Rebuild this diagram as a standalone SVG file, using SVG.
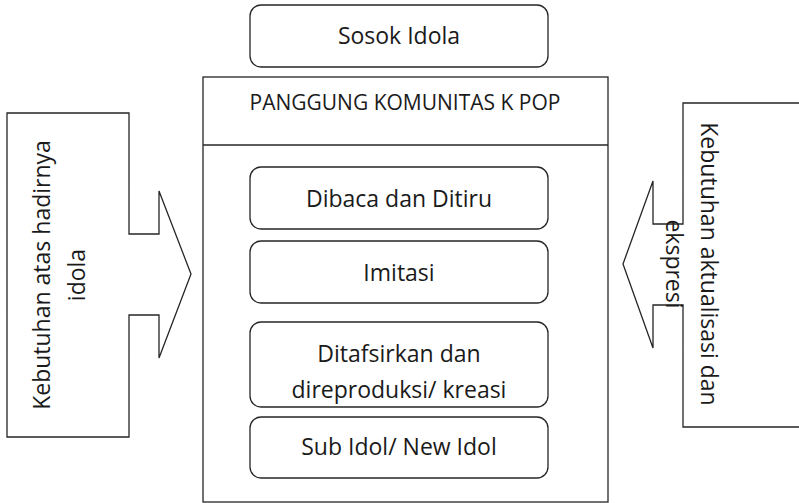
<svg xmlns="http://www.w3.org/2000/svg" width="799" height="503" viewBox="0 0 799 503">
  <style>
    .shape { fill: #ffffff; stroke: #262626; stroke-width: 1.3; }
    .lbl { font-family: "Open Sans", "Noto Sans", "Liberation Sans", sans-serif; font-size: 23px; fill: #1a1a1a; text-anchor: middle; }
    .hdr { font-size: 21px; }
  </style>
  <rect width="799" height="503" fill="#ffffff"/>

  <!-- side block arrows -->
  <g id="connectors">
    <g id="need-idol">
      <polygon class="shape" points="7,113 129,113 129,234 159,234 159,191 191,274 159,358 159,315 129,315 129,437 7,437"/>
      <text class="lbl" transform="translate(50,275) rotate(-90)"><tspan x="0" y="0">Kebutuhan atas hadirnya</tspan><tspan x="0" dy="35">idola</tspan></text>
    </g>
    <g id="need-expression">
      <polygon class="shape" points="812,103 683,103 683,224 653,224 653,181 623,264 653,348 653,305 683,305 683,427 812,427"/>
      <text class="lbl" transform="translate(701,264) rotate(90)"><tspan x="0" y="0">Kebutuhan aktualisasi dan</tspan><tspan x="0" dy="35">ekspresi</tspan></text>
    </g>
  </g>

  <g id="idol">
    <rect class="shape" x="250" y="5" width="298" height="62" rx="11"/>
    <text class="lbl" x="399" y="44">Sosok Idola</text>
  </g>

  <g id="stage">
    <rect class="shape" x="203" y="77" width="405" height="425"/>
    <line class="shape" x1="203" y1="145" x2="608" y2="145"/>
    <text class="lbl hdr" x="405" y="110">PANGGUNG KOMUNITAS K POP</text>
  </g>

  <g id="read-copy">
    <rect class="shape" x="250" y="167" width="298" height="62" rx="11"/>
    <text class="lbl" x="399" y="207">Dibaca dan Ditiru</text>
  </g>

  <g id="imitation">
    <rect class="shape" x="250" y="241" width="298" height="62" rx="11"/>
    <text class="lbl" x="399" y="281">Imitasi</text>
  </g>

  <g id="reproduce">
    <rect class="shape" x="250" y="322" width="298" height="85" rx="11"/>
    <text class="lbl" x="399" y="362">Ditafsirkan dan</text>
    <text class="lbl" x="399" y="398">direproduksi/ kreasi</text>
  </g>

  <g id="new-idol">
    <rect class="shape" x="250" y="417" width="298" height="61" rx="11"/>
    <text class="lbl" x="399" y="455">Sub Idol/ New Idol</text>
  </g>
</svg>
